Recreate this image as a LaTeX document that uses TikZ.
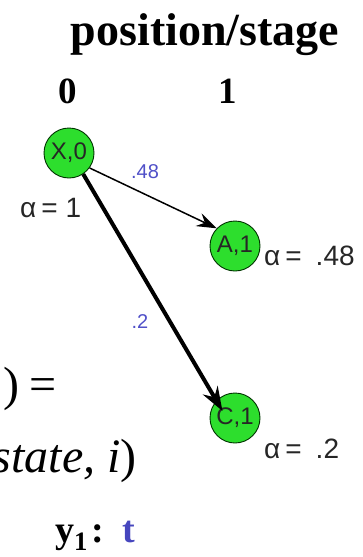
\documentclass[tikz,border=0pt]{standalone}
\usepackage{fontspec}
\setmainfont{Liberation Serif}
\newfontfamily\sansf{Liberation Sans}
\usetikzlibrary{arrows.meta}
\definecolor{nodegreen}{RGB}{45,222,45}
\definecolor{edgeblue}{RGB}{80,80,200}
\definecolor{tblue}{RGB}{70,70,190}
\begin{document}
\begin{tikzpicture}[x=1pt,y=-1pt,
  stateball/.style={circle,draw=black!80!green,line width=0.9pt,fill=nodegreen,
    minimum size=50pt,inner sep=0pt,font=\sansf\fontsize{24}{24}\selectfont,text=black!85},
  alphalabel/.style={anchor=base west,inner sep=0pt,font=\sansf\fontsize{28}{28}\selectfont,text=black!85},
  weight/.style={inner sep=0pt,font=\sansf\fontsize{20}{20}\selectfont,text=edgeblue},
  thinarrow/.style={line width=1.5pt,-{Stealth[length=20pt,width=14pt,inset=7pt]}},
  thickarrow/.style={line width=4pt,-{Stealth[length=24pt,width=17pt,inset=8pt]}},
  heading/.style={inner sep=0pt,anchor=base,font=\bfseries\fontsize{46}{46}\selectfont},
  stagenum/.style={inner sep=0pt,anchor=base,font=\bfseries\fontsize{37}{37}\selectfont},
  formula/.style={inner sep=0pt,font=\fontsize{48}{48}\selectfont}]
\useasboundingbox (0,0) rectangle (363,557);
\clip (0,0) rectangle (363,557);
\node[heading] (title) at (205,45) {position/stage};
\node[stagenum] (s0) at (68,103) {0};
\node[stagenum] (s1) at (228,103) {1};
\node[stateball] (x0) at (69,153) {X,0};
\node[stateball] (a1) at (235,246) {A,1};
\node[stateball] (c1) at (235,418) {C,1};
\node[alphalabel] (lx0) at (20,217) {α\kern5pt=\kern8pt1};
\node[alphalabel] (la1) at (264,265) {α\kern5pt=\kern14pt.48};
\node[alphalabel] (lc1) at (264,458) {α\kern5pt=\kern14pt.2};
\draw[thinarrow] (x0.-36) -- (a1.136);
\draw[thickarrow,shorten >=-12pt] (x0.-56) -- (c1.137);
\node[weight] (w1) at (145,172) {.48};
\node[weight] (w2) at (140,322) {.2};
\node[formula,anchor=base west] (eq) at (3,400) {)\kern10pt=};
\node[formula,anchor=base east] (st) at (137,472) {\itshape state, i\/\upshape)};
\node[inner sep=0pt,anchor=base west,font=\bfseries\fontsize{38}{38}\selectfont] (y1) at (55,542)
  {y\textsubscript{1}\kern4pt:\kern18pt\textcolor{tblue}{t}};
\end{tikzpicture}
\end{document}
